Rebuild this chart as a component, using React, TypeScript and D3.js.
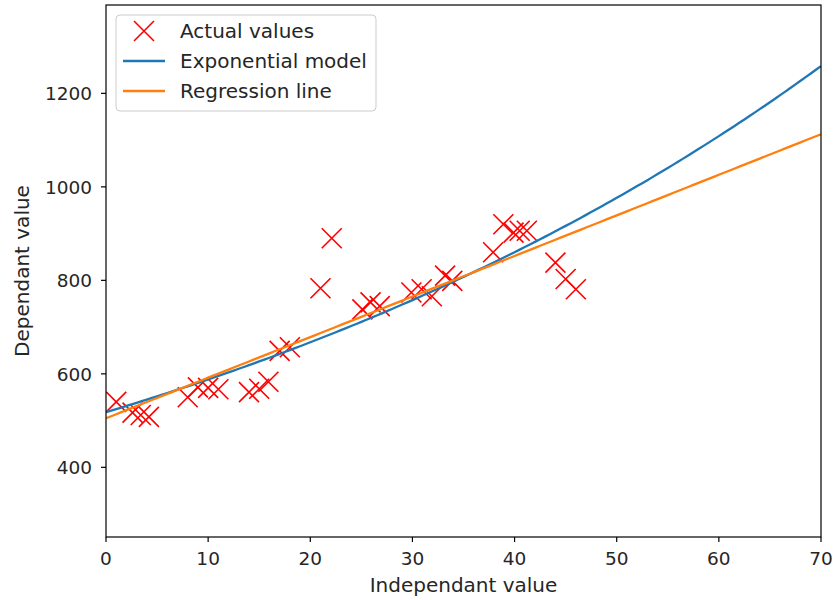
import React, { useEffect, useRef } from 'react';
import * as d3 from 'd3';

// observed data points
const xValues = [1, 2.6, 3.4, 4.2, 8, 9, 10, 11, 14, 15, 15.9, 17, 18, 21, 22.1, 25.1, 25.9, 26.8, 29.9, 30.9, 31.9, 33.2, 33.9, 37.9, 38.9, 39.9, 40.5, 41.2, 44, 45, 46];
const yValues = [540, 517, 512, 508, 550, 571, 570, 567, 561, 568, 583, 649, 657, 783, 890, 738, 753, 745, 774, 781, 766, 810, 799, 860, 920, 902, 906, 906, 838, 803, 781];

// fitted model parameters
const expA = 518;
const expB = 0.01268;
const regIntercept = 505;
const regSlope = 8.68;

const xTicks = [0, 10, 20, 30, 40, 50, 60, 70];
const yTicks = [400, 600, 800, 1000, 1200];
const legendLabels = ['Actual values', 'Exponential model', 'Regression line'];

const App = () => {
    const ref = useRef<SVGSVGElement>(null);

    useEffect(() => {
        const width = 833;
        const height = 600;
        const margin = { top: 5, right: 12, bottom: 63, left: 106 };
        const tickSize = 18.5;
        const labelSize = 20;

        const svg = d3.select(ref.current);
        svg.selectAll('*').remove();

        const x = d3.scaleLinear().domain([0, 70]).range([margin.left, width - margin.right]);
        const y = d3.scaleLinear().domain([251, 1389]).range([height - margin.bottom, margin.top]);

        const g = svg.append('g').attr('font-family', 'DejaVu Sans').attr('fill', '#262626');

        const xs = d3.range(0, 70.001, 0.5);
        const line = d3.line<number[]>().x(d => x(d[0])).y(d => y(d[1]));

        svg.append('clipPath').attr('id', 'plotclip').append('rect')
            .attr('x', margin.left).attr('y', margin.top)
            .attr('width', width - margin.left - margin.right)
            .attr('height', height - margin.top - margin.bottom);

        const plot = g.append('g').attr('clip-path', 'url(#plotclip)');

        // points
        const s = 10;
        plot.selectAll('.pt')
            .data(xValues.map((v, i) => [v, yValues[i]]))
            .enter()
            .append('path')
            .attr('class', 'pt')
            .attr('d', d => `M${x(d[0]) - s},${y(d[1]) - s}L${x(d[0]) + s},${y(d[1]) + s}M${x(d[0]) - s},${y(d[1]) + s}L${x(d[0]) + s},${y(d[1]) - s}`)
            .attr('stroke', '#ff0000')
            .attr('stroke-width', 1.6)
            .attr('fill', 'none');

        plot.append('path')
            .attr('d', line(xs.map(v => [v, expA * Math.exp(expB * v)])))
            .attr('stroke', '#1f77b4')
            .attr('stroke-width', 2.3)
            .attr('fill', 'none');

        plot.append('path')
            .attr('d', line(xs.map(v => [v, regIntercept + regSlope * v])))
            .attr('stroke', '#ff7f0e')
            .attr('stroke-width', 2.3)
            .attr('fill', 'none');

        // frame
        g.append('rect')
            .attr('x', margin.left).attr('y', margin.top)
            .attr('width', width - margin.left - margin.right)
            .attr('height', height - margin.top - margin.bottom)
            .attr('fill', 'none').attr('stroke', '#000').attr('stroke-width', 1.2);

        // x ticks
        xTicks.forEach(t => {
            g.append('line').attr('x1', x(t)).attr('x2', x(t))
                .attr('y1', height - margin.bottom).attr('y2', height - margin.bottom + 5)
                .attr('stroke', '#000').attr('stroke-width', 1.2);
            g.append('text').attr('x', x(t)).attr('y', height - margin.bottom + 28)
                .attr('text-anchor', 'middle').attr('font-size', tickSize).text(t);
        });

        // y ticks
        yTicks.forEach(t => {
            g.append('line').attr('x1', margin.left - 5).attr('x2', margin.left)
                .attr('y1', y(t)).attr('y2', y(t))
                .attr('stroke', '#000').attr('stroke-width', 1.2);
            g.append('text').attr('x', margin.left - 14).attr('y', y(t))
                .attr('dy', '0.36em')
                .attr('text-anchor', 'end').attr('font-size', tickSize).text(t);
        });

        // axis labels
        g.append('text').attr('x', (margin.left + width - margin.right) / 2).attr('y', 592)
            .attr('text-anchor', 'middle').attr('font-size', labelSize).text('Independant value');
        g.append('text')
            .attr('transform', `translate(29,${(margin.top + height - margin.bottom) / 2}) rotate(-90)`)
            .attr('text-anchor', 'middle').attr('font-size', labelSize).text('Dependant value');

        // legend
        const lg = g.append('g');
        lg.append('rect').attr('x', 116).attr('y', 15).attr('width', 260).attr('height', 96)
            .attr('rx', 4).attr('fill', 'white').attr('fill-opacity', 0.8)
            .attr('stroke', '#cccccc').attr('stroke-width', 1);
        const rowY = [31, 61, 91];
        lg.append('path')
            .attr('d', `M${144 - s},${rowY[0] - s}L${144 + s},${rowY[0] + s}M${144 - s},${rowY[0] + s}L${144 + s},${rowY[0] - s}`)
            .attr('stroke', '#ff0000').attr('stroke-width', 1.6).attr('fill', 'none');
        lg.append('line').attr('x1', 123).attr('x2', 165).attr('y1', rowY[1]).attr('y2', rowY[1])
            .attr('stroke', '#1f77b4').attr('stroke-width', 2.3);
        lg.append('line').attr('x1', 123).attr('x2', 165).attr('y1', rowY[2]).attr('y2', rowY[2])
            .attr('stroke', '#ff7f0e').attr('stroke-width', 2.3);
        legendLabels.forEach((l, i) => {
            lg.append('text').attr('x', 180).attr('y', rowY[i]).attr('dy', '0.36em')
                .attr('font-size', labelSize).text(l);
        });
    }, []);

    return <svg ref={ref} width={833} height={600} style={{ position: 'absolute', left: 0, top: 0, background: 'white' }} />;
};

export default App;
